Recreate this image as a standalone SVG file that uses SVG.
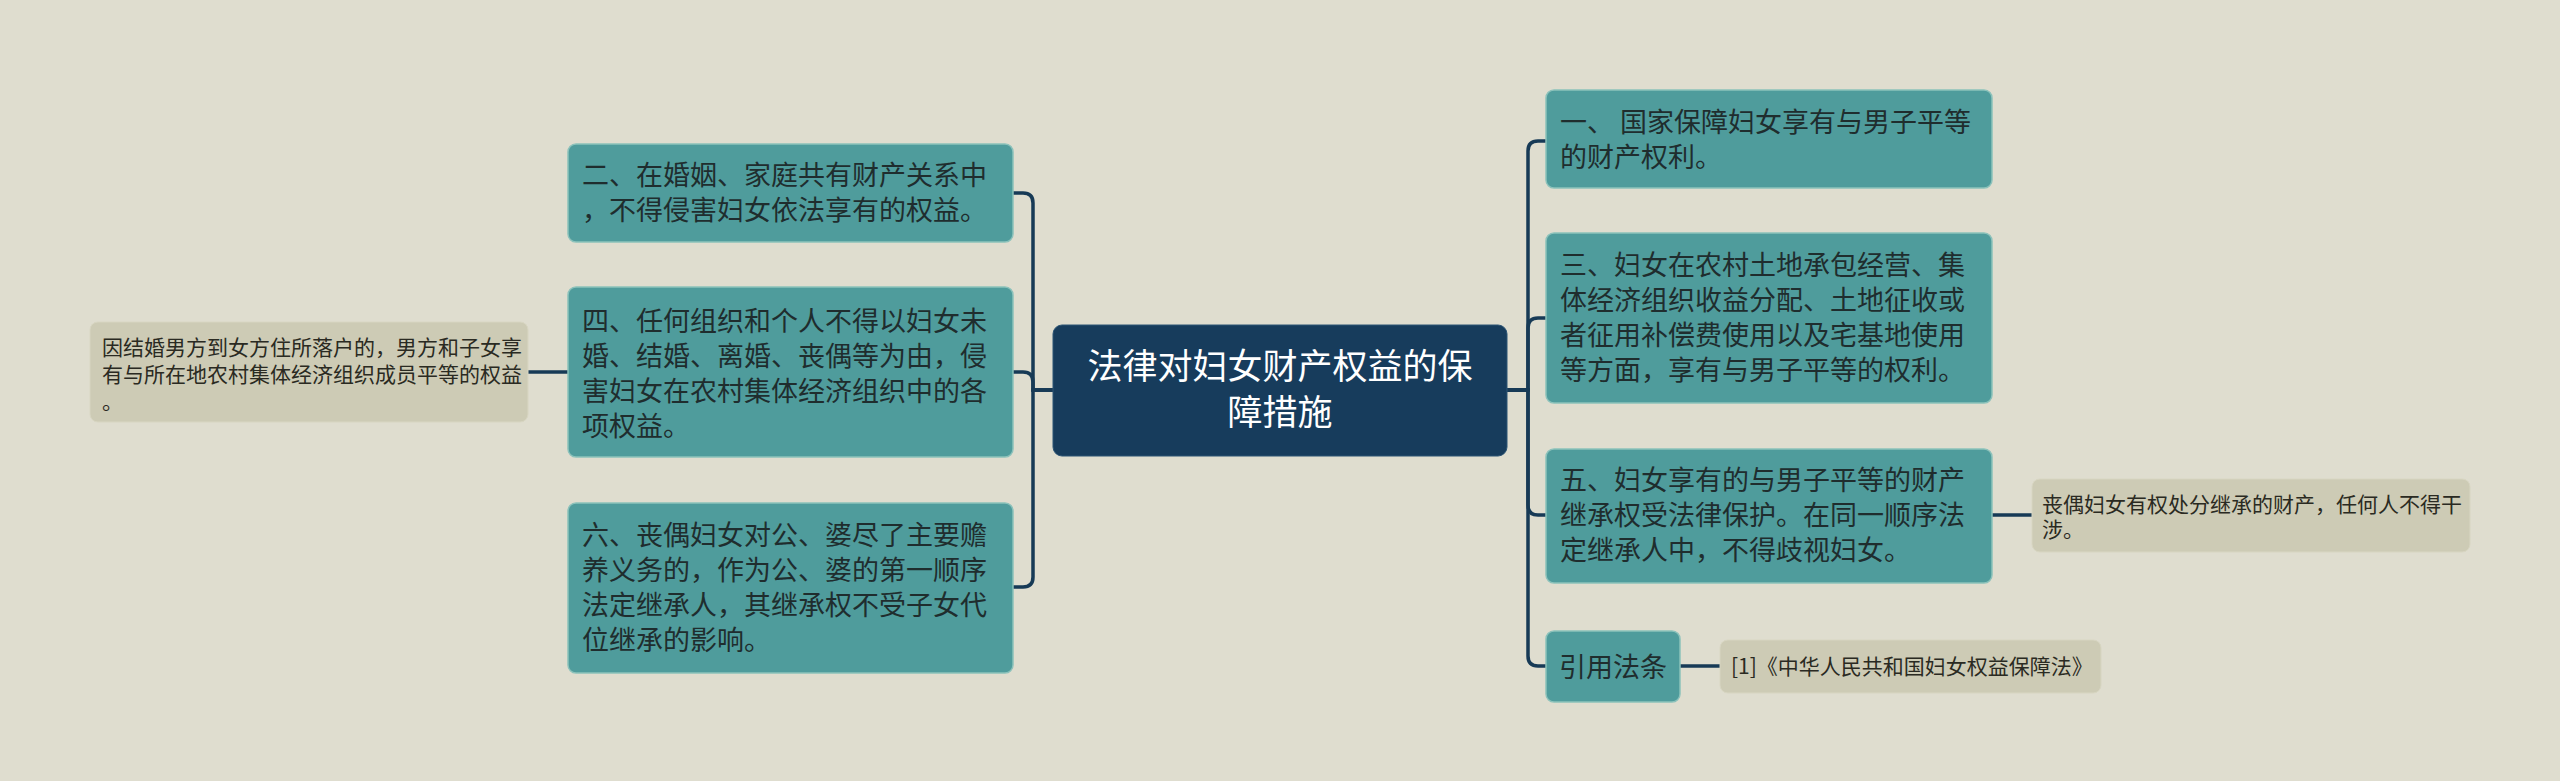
<svg xmlns="http://www.w3.org/2000/svg" width="2560" height="781" viewBox="0 0 2560 781">
<style>
.bg{fill:#dfddcf}
.teal{fill:#4f9c9c;stroke:#8cc2bb;stroke-width:1.5}
.leaf{fill:#cdcbb5;stroke:#d8d6c2;stroke-width:1}
.root{fill:#173c5c;stroke:#2c5575;stroke-width:1}
.t{font-family:"Noto Sans CJK SC","Noto Sans",sans-serif;font-size:27px;fill:#1f2d2e}
.ts{font-family:"Noto Sans CJK SC","Noto Sans",sans-serif;font-size:21px;fill:#2a2a22}
.tr{font-family:"Noto Sans CJK SC","Noto Sans",sans-serif;font-size:35px;fill:#ffffff;text-anchor:middle}
.c{fill:none;stroke:#173a56;stroke-width:3.5}
</style>
<rect class="bg" x="0" y="0" width="2560" height="781"/>
<g id="connectors">
<path class="c" d="M1053,390 H1033 V203 Q1033,193 1023,193 H1013"/>
<path class="c" d="M1053,390 H1033 V382 Q1033,372 1023,372 H1013"/>
<path class="c" d="M1053,390 H1033 V577 Q1033,587 1023,587 H1013"/>
<path class="c" d="M568,372 H528"/>
<path class="c" d="M1507,390 H1528 V151 Q1528,141 1538,141 H1546"/>
<path class="c" d="M1507,390 H1528 V328 Q1528,318 1538,318 H1546"/>
<path class="c" d="M1507,390 H1528 V505 Q1528,515 1538,515 H1546"/>
<path class="c" d="M1507,390 H1528 V656 Q1528,666 1538,666 H1546"/>
<path class="c" d="M1992,515 H2032"/>
<path class="c" d="M1680,666 H1720"/>
</g>
<g id="root">
<rect class="root" x="1053" y="325" width="454" height="131" rx="9"/>
<text class="tr" x="1280" y="379">法律对妇女财产权益的保</text>
<text class="tr" x="1280" y="425">障措施</text>
</g>
<g id="n2">
<rect class="teal" x="568" y="144" width="445" height="98" rx="8"/>
<text class="t" x="582" y="185">二、在婚姻、家庭共有财产关系中</text>
<text class="t" x="582" y="220">，不得侵害妇女依法享有的权益。</text>
</g>
<g id="n4">
<rect class="teal" x="568" y="287" width="445" height="170" rx="8"/>
<text class="t" x="582" y="331">四、任何组织和个人不得以妇女未</text>
<text class="t" x="582" y="366">婚、结婚、离婚、丧偶等为由，侵</text>
<text class="t" x="582" y="401">害妇女在农村集体经济组织中的各</text>
<text class="t" x="582" y="436">项权益。</text>
</g>
<g id="n4leaf">
<rect class="leaf" x="90" y="322" width="438" height="100" rx="8"/>
<text class="ts" x="102" y="355">因结婚男方到女方住所落户的，男方和子女享</text>
<text class="ts" x="102" y="382">有与所在地农村集体经济组织成员平等的权益</text>
<text class="ts" x="102" y="409">。</text>
</g>
<g id="n6">
<rect class="teal" x="568" y="503" width="445" height="170" rx="8"/>
<text class="t" x="582" y="545">六、丧偶妇女对公、婆尽了主要赡</text>
<text class="t" x="582" y="580">养义务的，作为公、婆的第一顺序</text>
<text class="t" x="582" y="615">法定继承人，其继承权不受子女代</text>
<text class="t" x="582" y="650">位继承的影响。</text>
</g>
<g id="n1">
<rect class="teal" x="1546" y="90" width="446" height="98" rx="8"/>
<text class="t" x="1560" y="132">一、 国家保障妇女享有与男子平等</text>
<text class="t" x="1560" y="167">的财产权利。</text>
</g>
<g id="n3">
<rect class="teal" x="1546" y="233" width="446" height="170" rx="8"/>
<text class="t" x="1560" y="275">三、妇女在农村土地承包经营、集</text>
<text class="t" x="1560" y="310">体经济组织收益分配、土地征收或</text>
<text class="t" x="1560" y="345">者征用补偿费使用以及宅基地使用</text>
<text class="t" x="1560" y="380">等方面，享有与男子平等的权利。</text>
</g>
<g id="n5">
<rect class="teal" x="1546" y="449" width="446" height="134" rx="8"/>
<text class="t" x="1560" y="490">五、妇女享有的与男子平等的财产</text>
<text class="t" x="1560" y="525">继承权受法律保护。在同一顺序法</text>
<text class="t" x="1560" y="560">定继承人中，不得歧视妇女。</text>
</g>
<g id="n5leaf">
<rect class="leaf" x="2032" y="479" width="438" height="73" rx="8"/>
<text class="ts" x="2042" y="512">丧偶妇女有权处分继承的财产，任何人不得干</text>
<text class="ts" x="2042" y="537">涉。</text>
</g>
<g id="cite">
<rect class="teal" x="1546" y="631" width="134" height="71" rx="8"/>
<text class="t" x="1613" y="677" text-anchor="middle">引用法条</text>
</g>
<g id="citeleaf">
<rect class="leaf" x="1720" y="640" width="381" height="53" rx="8"/>
<text class="ts" x="1731" y="674">[1]《中华人民共和国妇女权益保障法》</text>
</g>
</svg>
